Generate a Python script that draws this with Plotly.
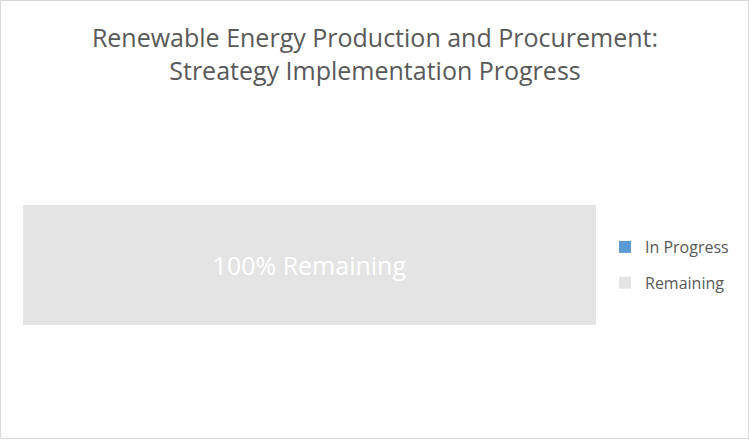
import plotly.graph_objects as go

# chart data
categories = ['Progress']
in_progress = [0]
remaining = [100]
series_names = ['In Progress', 'Remaining']
series_colors = ['#5b9bd5', '#e4e4e4']

title_text = 'Renewable Energy Production and Procurement:<br>Streategy Implementation Progress'
font_family = 'Open Sans'
text_grey = '#595959'

fig = go.Figure()

fig.add_trace(go.Bar(
    y=categories, x=in_progress, name=series_names[0], orientation='h',
    legendgroup='a',
    marker=dict(color=series_colors[0], line=dict(width=0)),
    hoverinfo='skip',
))
fig.add_trace(go.Bar(
    y=categories, x=remaining, name=series_names[1], orientation='h',
    legendgroup='b',
    marker=dict(color=series_colors[1], line=dict(width=0)),
    texttemplate='%{x}% Remaining', textposition='inside', insidetextanchor='middle',
    textfont=dict(color='white', size=25, family=font_family),
    hoverinfo='skip',
))

# plot area geometry (pixels) used to place the legend and outer border
W, H = 750, 440
m_l, m_r, m_t, m_b = 23, 154, 145, 55
pw = W - m_l - m_r
ph = H - m_t - m_b

fig.update_layout(
    width=W, height=H,
    barmode='stack', bargap=0.5,
    plot_bgcolor='white', paper_bgcolor='white',
    margin=dict(l=m_l, r=m_r, t=m_t, b=m_b, autoexpand=False),
    font=dict(family=font_family, color=text_grey),
    title=dict(text=title_text, x=0.5, xanchor='center', xref='container',
               y=1 - 47 / H, yanchor='top', yref='container',
               font=dict(size=25, color=text_grey, family=font_family)),
    xaxis=dict(range=[0, 100], visible=False, fixedrange=True),
    yaxis=dict(range=[-0.5, 0.5], visible=False, fixedrange=True),
    legend=dict(x=(605 - m_l) / pw, y=0.5, xanchor='left', yanchor='middle',
                traceorder='grouped', tracegroupgap=12,
                font=dict(size=16, color=text_grey),
                itemwidth=30, bgcolor='rgba(0,0,0,0)'),
    showlegend=True,
    shapes=[dict(type='rect', xref='paper', yref='paper',
                 x0=(0.5 - m_l) / pw, x1=(W - 1.5 - m_l) / pw,
                 y0=(H - m_b - (H - 1.5)) / ph, y1=(H - m_b - 0.5) / ph,
                 line=dict(color='#d9d9d9', width=1), fillcolor='rgba(0,0,0,0)')],
)

fig.write_html('out.html', config={'displayModeBar': False},
               post_script="document.body.style.margin='0';")
